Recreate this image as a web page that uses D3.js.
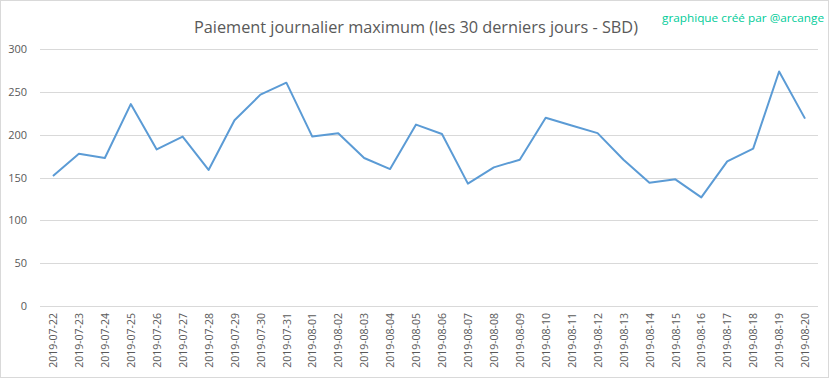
<!DOCTYPE html>
<html><head><meta charset="utf-8">
<script src="https://cdn.jsdelivr.net/npm/d3@7/dist/d3.min.js"></script>
<style>body{margin:0;background:#fff}svg{display:block}</style>
</head><body>
<svg id="c" width="833" height="379"></svg>
<script>
const dates = ["2019-07-22","2019-07-23","2019-07-24","2019-07-25","2019-07-26","2019-07-27","2019-07-28","2019-07-29","2019-07-30","2019-07-31","2019-08-01","2019-08-02","2019-08-03","2019-08-04","2019-08-05","2019-08-06","2019-08-07","2019-08-08","2019-08-09","2019-08-10","2019-08-11","2019-08-12","2019-08-13","2019-08-14","2019-08-15","2019-08-16","2019-08-17","2019-08-18","2019-08-19","2019-08-20"];
const values = [152,178,173,236,183,198,159,217,247,261,198,202,173,160,212,201,143,162,171,220,211,202,171,144,148,127,169,184,274,219];
const yTicks = [0,50,100,150,200,250,300];
const title = "Paiement journalier maximum (les 30 derniers jours - SBD)";
const credit = "graphique créé par @arcange";

const svg = d3.select("#c");
const L = 40, R = 818, T = 49.3, B = 306;
svg.append("rect").attr("x",0.5).attr("y",0.5).attr("width",828).attr("height",377)
  .attr("fill","#fff").attr("stroke","#d9d9d9");

const x = d3.scalePoint().domain(dates).range([L, R]).padding(0.5);
const y = d3.scaleLinear().domain([0,300]).range([B, T]);

const g = svg.append("g");
g.selectAll("line.grid").data(yTicks).join("line").attr("class","grid")
  .attr("x1",L).attr("x2",R).attr("y1",d=>Math.round(y(d))+0.5).attr("y2",d=>Math.round(y(d))+0.5)
  .attr("stroke","#d9d9d9").attr("stroke-width",1);

const yAxis = svg.append("g").attr("transform",`translate(${L},0)`)
  .call(d3.axisLeft(y).tickValues(yTicks).tickSize(0).tickPadding(13));
yAxis.select(".domain").remove();
yAxis.selectAll("text").attr("fill","#595959").style("font-family","'Open Sans', sans-serif").style("font-size","11px");

const xAxis = svg.append("g").attr("transform",`translate(0,${B})`)
  .call(d3.axisBottom(x).tickSize(0));
xAxis.select(".domain").remove();
xAxis.selectAll("text").attr("fill","#595959").style("font-family","'Open Sans', sans-serif").style("font-size","10.5px")
  .attr("transform","rotate(-90)").attr("text-anchor","end").attr("x",-7).attr("y",0).attr("dy","0.35em");

const line = d3.line().x((d,i)=>x(dates[i])).y(d=>y(d));
svg.append("path").datum(values).attr("d",line).attr("fill","none")
  .attr("stroke","#5b9bd5").attr("stroke-width",2).attr("stroke-linejoin","round");

svg.append("text").attr("x",416).attr("y",33).attr("text-anchor","middle")
  .attr("fill","#595959").style("font-family","'Open Sans', sans-serif").style("font-size","16px")
  .attr("textLength",444).attr("lengthAdjust","spacingAndGlyphs").text(title);
svg.append("text").attr("x",824).attr("y",22).attr("text-anchor","end")
  .attr("fill","#00cc99").style("font-family","'Open Sans', sans-serif").style("font-size","11px")
  .attr("textLength",162).attr("lengthAdjust","spacingAndGlyphs").text(credit);
</script>
</body></html>
